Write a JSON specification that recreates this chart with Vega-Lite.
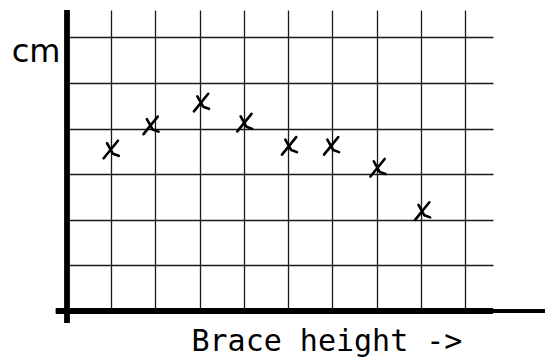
{
  "$schema": "https://vega.github.io/schema/vega-lite/v6.json",
  "width": 426,
  "height": 301,
  "autosize": {"type": "none"},
  "padding": {"left": 67, "top": 10, "right": 52, "bottom": 50},
  "background": "white",
  "view": {"stroke": null},
  "data": {"values": [
    {"brace": 1.0, "cm": 3.55},
    {"brace": 1.9, "cm": 4.08},
    {"brace": 3.04, "cm": 4.58},
    {"brace": 4.02, "cm": 4.14},
    {"brace": 5.03, "cm": 3.63},
    {"brace": 5.98, "cm": 3.63},
    {"brace": 7.03, "cm": 3.15},
    {"brace": 8.04, "cm": 2.2}
  ]},
  "encoding": {
    "x": {"field": "brace", "type": "quantitative",
      "scale": {"domain": [0, 9.63], "nice": false, "zero": false},
      "axis": {"values": [1,2,3,4,5,6,7,8,9], "grid": true, "gridColor": "#1a1a1a", "gridWidth": 1.3, "gridOpacity": 1,
        "domain": false, "ticks": false, "labels": false,
        "title": "Brace height ->", "titleFont": "DejaVu Sans Mono", "titleFontSize": 30, "titleFontWeight": "normal", "titleColor": "black",
        "titleAlign": "left", "titleBaseline": "alphabetic", "titleAnchor": "start", "titleX": 124, "titleY": 39}},
    "y": {"field": "cm", "type": "quantitative",
      "scale": {"domain": [0, 6.6], "nice": false, "zero": false},
      "axis": {"values": [1,2,3,4,5,6], "grid": true, "gridColor": "#1a1a1a", "gridWidth": 1.3, "gridOpacity": 1,
        "domain": false, "ticks": false, "labels": false,
        "title": "cm", "titleFont": "DejaVu Sans", "titleFontSize": 32, "titleFontWeight": "normal", "titleColor": "black",
        "titleAngle": 0, "titleAlign": "right", "titleBaseline": "alphabetic", "titleX": -7, "titleY": 51.5}}
  },
  "layer": [
    {
      "mark": {"type": "rule", "color": "black", "strokeWidth": 4.5},
      "encoding": {"x": {"datum": 0}, "y": {"datum": -0.26}, "y2": {"datum": 6.6}}
    },
    {
      "mark": {"type": "rule", "color": "black", "strokeWidth": 5},
      "encoding": {"x": {"datum": -0.25}, "x2": {"datum": 9.63}, "y": {"datum": 0}}
    },
    {
      "mark": {"type": "rule", "color": "black", "strokeWidth": 3},
      "encoding": {"x": {"datum": 9.6}, "x2": {"datum": 10.8}, "y": {"datum": 0}}
    },
    {
      "mark": {"type": "point", "shape": "M-0.9,1.1L0.8,-1M-0.5,-0.7L0.2,0.55L0.9,0.8", "filled": false, "color": "black", "strokeWidth": 2.6, "opacity": 1, "size": 280, "strokeCap": "round", "strokeJoin": "round"}
    }
  ]
}
